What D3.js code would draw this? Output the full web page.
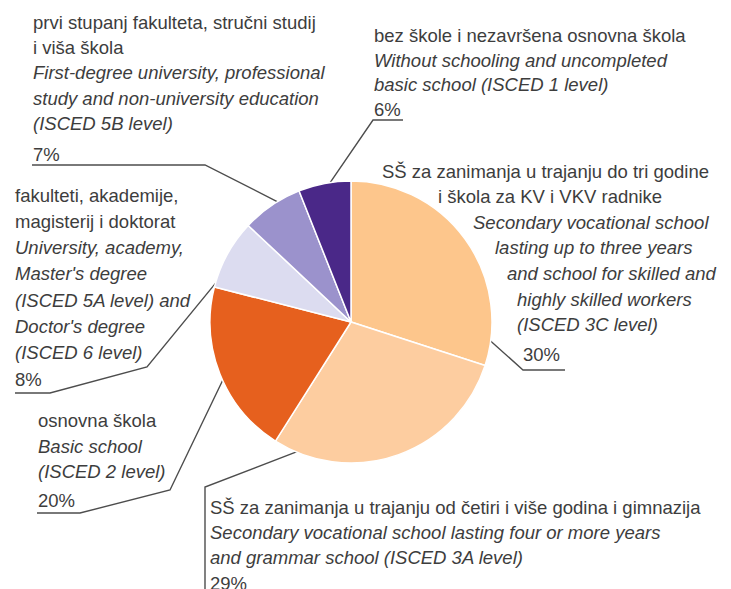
<!DOCTYPE html>
<html>
<head>
<meta charset="utf-8">
<script src="https://cdn.jsdelivr.net/npm/d3@7"></script>
<style>
  body { margin: 0; background: #fff; }
  text { font-family: "Liberation Sans", Arial, sans-serif; font-size: 18.5px; fill: #3d3d3d; }
</style>
</head>
<body>
<div id="chart"></div>
<script>
// shares of population by education level, clockwise from 12 o'clock
const shares = [30, 29, 20, 8, 7, 6];
const labelsHr = [
  ["SŠ za zanimanja u trajanju do tri godine", "i škola za KV i VKV radnike"],
  ["SŠ za zanimanja u trajanju od četiri i više godina i gimnazija"],
  ["osnovna škola"],
  ["fakulteti, akademije,", "magisterij i doktorat"],
  ["prvi stupanj fakulteta, stručni studij", "i viša škola"],
  ["bez škole i nezavršena osnovna škola"]
];
const labelsEn = [
  ["Secondary vocational school", "lasting up to three years", "and school for skilled and", "highly skilled workers", "(ISCED 3C level)"],
  ["Secondary vocational school lasting four or more years", "and grammar school (ISCED 3A level)"],
  ["Basic school", "(ISCED 2 level)"],
  ["University, academy,", "Master's degree", "(ISCED 5A level) and", "Doctor's degree", "(ISCED 6 level)"],
  ["First-degree university, professional", "study and non-university education", "(ISCED 5B level)"],
  ["Without schooling and uncompleted", "basic school (ISCED 1 level)"]
];
const colours = ["#fdc68c", "#fdcda0", "#e6601e", "#dcdcf0", "#9b92cc", "#4a2888"];

// label placement: first baseline, line height, gap before the % line,
// per-line x, where the leader meets the slice (fraction of slice angle) and its elbows
const layout = [
  { xs: [382, 438, 473, 495, 507, 517, 517, 523], y: 177.5, lh: 25.6, gap: 30, t: 0.9,
    elbows: [[565, 370], [523, 370]] },
  { xs: [210], y: 514, lh: 25, gap: 26, t: 0.9,
    elbows: [[205, 620], [205, 487]] },
  { xs: [38], y: 427, lh: 25.5, gap: 29, t: 0.47,
    elbows: [[37, 513], [80, 513], [170, 490]] },
  { xs: [15], y: 201.5, lh: 26.3, gap: 27, t: 0.12,
    elbows: [[15, 393], [50, 393], [147, 367]] },
  { xs: [33], y: 28.5, lh: 25.4, gap: 31, t: 0.63,
    elbows: [[32, 165], [205, 165]] },
  { xs: [374], y: 42, lh: 24.5, gap: 25, t: 0.57,
    elbows: [[403, 120], [373, 120]] }
];

const width = 731, height = 589;
const cx = 351, cy = 322, radius = 141;

const svg = d3.select("#chart").append("svg")
    .attr("width", width)
    .attr("height", height);

const pie = d3.pie().sort(null).value(d => d);
const arcs = pie(shares);
const arc = d3.arc().innerRadius(0).outerRadius(radius);

// leaders go under the pie
const leaders = svg.append("g");
arcs.forEach(function(a, i) {
    const ang = a.startAngle + layout[i].t * (a.endAngle - a.startAngle);
    const r = radius - 2;
    const end = [cx + r * Math.sin(ang), cy - r * Math.cos(ang)];
    leaders.append("path")
        .attr("d", d3.line()(layout[i].elbows.concat([end])))
        .attr("fill", "none")
        .attr("stroke", "#4d4d4d")
        .attr("stroke-width", 1.4);
});

svg.append("g")
    .attr("transform", "translate(" + cx + "," + cy + ")")
    .selectAll("path")
    .data(arcs)
    .enter()
    .append("path")
    .attr("d", arc)
    .attr("fill", (d, i) => colours[i])
    .attr("stroke", "white")
    .attr("stroke-width", 1.5);

const labels = svg.append("g");
shares.forEach(function(v, i) {
    const L = layout[i];
    const lines = labelsHr[i].map(s => ({ s: s, it: false }))
        .concat(labelsEn[i].map(s => ({ s: s, it: true })));
    lines.push({ s: v + "%", it: false, pct: true });
    lines.forEach(function(ln, k) {
        const x = L.xs[Math.min(k, L.xs.length - 1)];
        const y = ln.pct ? L.y + (k - 1) * L.lh + L.gap : L.y + k * L.lh;
        labels.append("text")
            .attr("x", x)
            .attr("y", y)
            .style("font-style", ln.it ? "italic" : "normal")
            .text(ln.s);
    });
});
</script>
</body>
</html>
